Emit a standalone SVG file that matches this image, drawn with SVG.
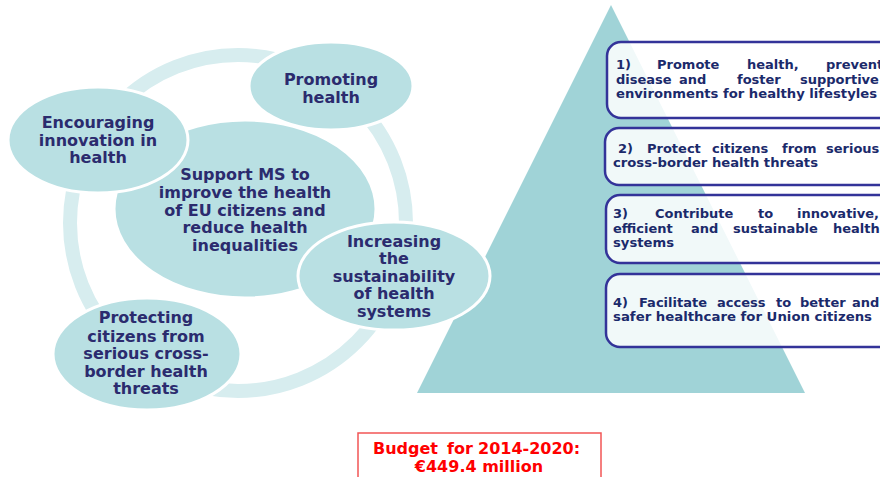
<svg xmlns="http://www.w3.org/2000/svg" width="880" height="477" viewBox="0 0 880 477">
<style>
.ell{fill:#b9e0e3;stroke:#ffffff;stroke-width:3}
.et{font-family:"DejaVu Sans",Verdana,sans-serif;font-weight:bold;font-size:16px;fill:#2b2b6e;text-anchor:middle}
.box{fill:#ffffff;fill-opacity:0.85;stroke:#333399;stroke-width:2.5}
.bt{font-family:"DejaVu Sans",Verdana,sans-serif;font-weight:bold;font-size:13px;fill:#1b2a6b}
.bud{font-family:"DejaVu Sans",Verdana,sans-serif;font-weight:bold;font-size:16px;fill:#ff0000}
</style>
<rect width="880" height="477" fill="#ffffff"/>
<g id="connectors">
<circle cx="238" cy="223" r="168" fill="none" stroke="#d7edef" stroke-width="14"/>
</g>
<g id="pyramid">
<polygon points="611,5 805,393 417,393" fill="#a0d3d7"/>
</g>
<g id="center">
<ellipse class="ell" cx="245" cy="209" rx="131" ry="89"/>
<text class="et" x="245" y="180">Support MS to</text>
<text class="et" x="245" y="198">improve the health</text>
<text class="et" x="245" y="216">of EU citizens and</text>
<text class="et" x="245" y="233">reduce health</text>
<text class="et" x="245" y="251">inequalities</text>
</g>
<g id="promoting">
<ellipse class="ell" cx="331" cy="86" rx="82" ry="44"/>
<text class="et" x="331" y="85">Promoting</text>
<text class="et" x="331" y="103">health</text>
</g>
<g id="encouraging">
<ellipse class="ell" cx="98" cy="140" rx="90" ry="53"/>
<text class="et" x="98" y="128">Encouraging</text>
<text class="et" x="98" y="146">innovation in</text>
<text class="et" x="98" y="163">health</text>
</g>
<g id="increasing">
<ellipse class="ell" cx="394" cy="276" rx="96" ry="54"/>
<text class="et" x="394" y="247">Increasing</text>
<text class="et" x="394" y="264">the</text>
<text class="et" x="394" y="282">sustainability</text>
<text class="et" x="394" y="299">of health</text>
<text class="et" x="394" y="317">systems</text>
</g>
<g id="protecting">
<ellipse class="ell" cx="147" cy="354" rx="94" ry="56"/>
<text class="et" x="146" y="323">Protecting</text>
<text class="et" x="146" y="342">citizens from</text>
<text class="et" x="146" y="359">serious cross-</text>
<text class="et" x="146" y="377">border health</text>
<text class="et" x="146" y="394">threats</text>
</g>
<g id="objective1">
<rect class="box" x="607" y="42" width="290" height="76" rx="14"/>
<text class="bt" y="69"><tspan x="616">1)</tspan> <tspan x="657">Promote</tspan> <tspan x="747">health,</tspan> <tspan x="826">prevent</tspan></text>
<text class="bt" y="84"><tspan x="616">disease</tspan> <tspan x="679">and</tspan> <tspan x="737">foster</tspan> <tspan x="800">supportive</tspan></text>
<text class="bt" x="616" y="98" textLength="261" lengthAdjust="spacingAndGlyphs">environments for healthy lifestyles</text>
</g>
<g id="objective2">
<rect class="box" x="605" y="128" width="292" height="57" rx="14"/>
<text class="bt" y="153"><tspan x="618">2)</tspan> <tspan x="647">Protect</tspan> <tspan x="712">citizens</tspan> <tspan x="782">from</tspan> <tspan x="826">serious</tspan></text>
<text class="bt" x="613" y="167" textLength="205" lengthAdjust="spacingAndGlyphs">cross-border health threats</text>
</g>
<g id="objective3">
<rect class="box" x="606" y="195" width="291" height="68" rx="14"/>
<text class="bt" y="218"><tspan x="613">3)</tspan> <tspan x="655">Contribute</tspan> <tspan x="758">to</tspan> <tspan x="797">innovative,</tspan></text>
<text class="bt" y="233"><tspan x="613">efficient</tspan> <tspan x="691">and</tspan> <tspan x="733">sustainable</tspan> <tspan x="833">health</tspan></text>
<text class="bt" x="613" y="247" textLength="61" lengthAdjust="spacingAndGlyphs">systems</text>
</g>
<g id="objective4">
<rect class="box" x="606" y="274" width="291" height="73" rx="14"/>
<text class="bt" y="307"><tspan x="613">4)</tspan> <tspan x="639">Facilitate</tspan> <tspan x="717">access</tspan> <tspan x="776">to</tspan> <tspan x="800">better</tspan> <tspan x="852">and</tspan></text>
<text class="bt" x="613" y="321" textLength="259" lengthAdjust="spacingAndGlyphs">safer healthcare for Union citizens</text>
</g>
<g id="budget">
<rect x="358" y="433" width="243" height="60" fill="#ffffff" stroke="#f25555" stroke-width="1.5"/>
<text class="bud" y="454"><tspan x="373">Budget</tspan> <tspan x="447">for</tspan> <tspan x="478">2014-2020:</tspan></text>
<text class="bud" x="479" y="472" text-anchor="middle">€449.4 million</text>
</g>
</svg>
